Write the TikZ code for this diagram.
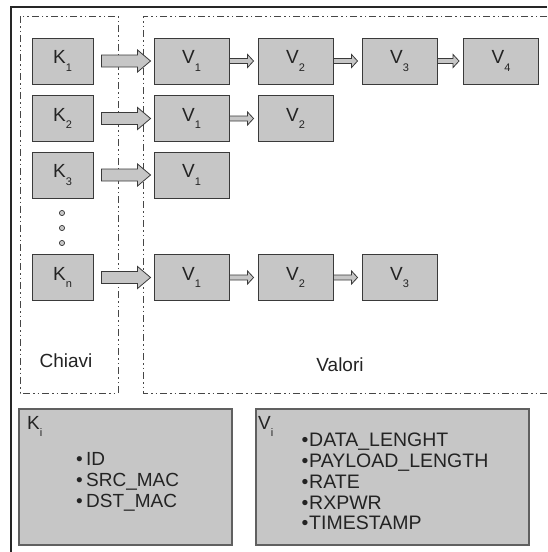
\documentclass[tikz,border=0pt]{standalone}
\usepackage{fontspec}
\setmainfont{Liberation Sans}
\usetikzlibrary{calc}
\definecolor{boxfill}{RGB}{198,198,198}
\definecolor{boxline}{RGB}{58,58,58}
\definecolor{txt}{RGB}{35,35,35}
\definecolor{dashc}{RGB}{70,70,70}
\newcommand\subs[1]{\raisebox{-7.5pt}{\fontsize{11}{11}\selectfont #1}}
\newcommand\bigarr[2]{\draw[arrowshape] let \p1=($(#1.east)+(8pt,0)$), \p2=($(#2.west)+(-3pt,0)$) in
  (\x1,\y1-6pt) -- (\x2-13pt,\y1-6pt) -- (\x2-13pt,\y1-11pt) -- (\x2,\y1) -- (\x2-13pt,\y1+11pt) -- (\x2-13pt,\y1+6pt) -- (\x1,\y1+6pt) -- cycle;}
\newcommand\smallarr[2]{\draw[arrowshape] let \p1=(#1.east), \p2=($(#2.west)+(-4pt,0)$) in
  (\x1,\y1-2.5pt) -- (\x2-6pt,\y1-2.5pt) -- (\x2-6pt,\y1-6.5pt) -- (\x2,\y1) -- (\x2-6pt,\y1+6.5pt) -- (\x2-6pt,\y1+2.5pt) -- (\x1,\y1+2.5pt) -- cycle;}
\newcommand\bulK{\makebox[10pt][l]{•}}
\newcommand\bulV{\makebox[7.5pt][l]{•}}
\tikzset{
  kbox/.style={draw=boxline, fill=boxfill, line width=0.9pt, minimum width=61pt, minimum height=46pt, inner sep=0pt, text=txt, font=\fontsize{19}{19}\selectfont},
  vbox/.style={kbox, minimum width=75pt},
  arrowshape/.style={draw=boxline, fill=boxfill, line width=0.8pt, line join=miter},
  region/.style={draw=dashc, line width=0.9pt, dash pattern=on 7pt off 3pt on 1.5pt off 3pt on 1.5pt off 3pt},
  legend/.style={draw=gray!75!black, fill=boxfill, line width=1.3pt},
  lbl/.style={text=txt, inner sep=0pt, font=\fontsize{19}{19}\selectfont},
  item/.style={lbl, anchor=base west},
  vitem/.style={item, font=\fontsize{19.5}{19.5}\selectfont},
  dotc/.style={draw=boxline, fill=boxfill, line width=0.7pt}
}
\begin{document}
\begin{tikzpicture}[x=1pt,y=-1pt]
\useasboundingbox (0,0) rectangle (547,552);
% outer frame (only top and left visible)
\draw[line width=1.3pt, draw=black!85] (547,7) -- (11,7) -- (11,552);
% regions
\draw[region] (20,16) rectangle (118,393);
\draw[region] (547,16) -- (143,16) -- (143,393) -- (547,393);
% keys
\node[kbox] (k1) at (62.5,61) {K\subs{1}};
\node[kbox] (k2) at (62.5,118.5) {K\subs{2}};
\node[kbox] (k3) at (62.5,175) {K\subs{3}};
\node[kbox] (kn) at (62.5,277.5) {K\subs{n}};
% dots
\path[dotc] (62,213) circle (2.6pt) (62,228) circle (2.6pt) (62,243) circle (2.6pt);
% values row 1
\node[vbox] (v11) at (191.5,61) {V\subs{1}};
\node[vbox] (v12) at (295.5,61) {V\subs{2}};
\node[vbox] (v13) at (399.5,61) {V\subs{3}};
\node[vbox] (v14) at (501,61) {V\subs{4}};
% row 2
\node[vbox] (v21) at (191.5,118.5) {V\subs{1}};
\node[vbox] (v22) at (295.5,118.5) {V\subs{2}};
% row 3
\node[vbox] (v31) at (191.5,175) {V\subs{1}};
% row n
\node[vbox] (vn1) at (191.5,277.5) {V\subs{1}};
\node[vbox] (vn2) at (295.5,277.5) {V\subs{2}};
\node[vbox] (vn3) at (399.5,277.5) {V\subs{3}};
% arrows
\bigarr{k1}{v11}
\bigarr{k2}{v21}
\bigarr{k3}{v31}
\bigarr{kn}{vn1}
\smallarr{v11}{v12}
\smallarr{v12}{v13}
\smallarr{v13}{v14}
\smallarr{v21}{v22}
\smallarr{vn1}{vn2}
\smallarr{vn2}{vn3}
% region labels
\node[lbl, anchor=base] (chiavi) at (66,367) {Chiavi};
\node[lbl, anchor=base] (valori) at (340,371) {Valori};
% legend boxes
\draw[legend] (19,409) rectangle (232,545);
\draw[legend] (256,409) rectangle (529,545);
\node[item] (ki) at (27,429) {K\subs{i}};
\node[item] (vi) at (258,429) {V\subs{i}};
\node[item] (ka) at (76,465) {\bulK ID};
\node[item] (kb) at (76,486) {\bulK SRC\_MAC};
\node[item] (kc) at (76,507) {\bulK DST\_MAC};
\node[vitem] (va) at (301.5,446) {\bulV DATA\_LENGHT};
\node[vitem] (vb) at (301.5,467) {\bulV PAYLOAD\_LENGTH};
\node[vitem] (vc) at (301.5,488.5) {\bulV RATE};
\node[vitem] (vd) at (301.5,509) {\bulV RXPWR};
\node[vitem] (ve) at (301.5,529) {\bulV TIMESTAMP};
\end{tikzpicture}
\end{document}
